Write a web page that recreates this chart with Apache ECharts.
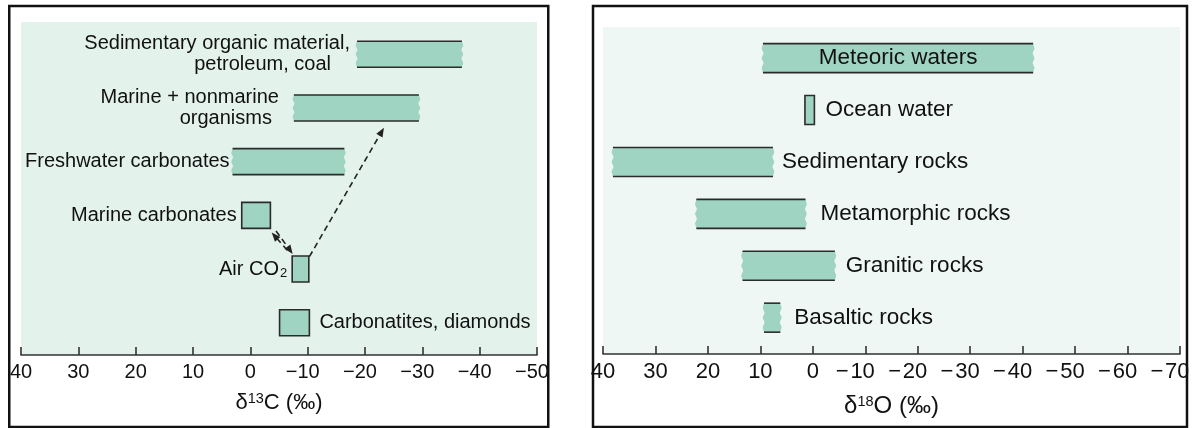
<!DOCTYPE html>
<html>
<head>
<meta charset="utf-8">
<script src="https://cdn.jsdelivr.net/npm/echarts@6/dist/echarts.min.js"></script>
<style>
html,body{margin:0;padding:0;background:#ffffff;}
#chart{width:1196px;height:428px;}
</style>
</head>
<body>
<div id="chart"></div>
<script>
// ---------------- data ----------------
const carbonCategories = ['Sedimentary organic material,\npetroleum, coal', 'Marine + nonmarine\norganisms', 'Freshwater carbonates', 'Marine carbonates', 'Air CO₂', 'Carbonatites, diamonds'];
const carbonFrom = [-18.6, -7.6, 3.1, 1.5, -7.3, -5.1];
const carbonTo = [-36.9, -29.4, -16.4, -3.5, -10.2, -10.3];
const carbonTicks = [40, 30, 20, 10, 0, -10, -20, -30, -40, -50];

const oxygenCategories = ['Meteoric waters', 'Ocean water', 'Sedimentary rocks', 'Metamorphic rocks', 'Granitic rocks', 'Basaltic rocks'];
const oxygenFrom = [9.5, 1.5, 38.1, 22.2, 13.4, 9.3];
const oxygenTo = [-42.0, -0.3, 7.6, 1.4, -4.2, 6.2];
const oxygenTicks = [40, 30, 20, 10, 0, -10, -20, -30, -40, -50, -60, -70];

// dashed arrows in the δ13C panel: [fromValue, fromRow, toValue, toRow]
const carbonArrows = [
  [-10.3, 3.77, -23.3, 1.37],
  [-6.45, 3.65, -3.73, 3.32],
  [-4.48, 3.29, -7.39, 3.72]
];

// ---------------- style ----------------
const FONT = 'Liberation Sans, Arial, Helvetica, sans-serif';
const FILL = '#9fd4c2';
const LINE = '#2b2b2b';
const TEXT = '#111111';
const carbonBoxed = [false, false, false, true, true, true];
const carbonLabelSide = ['left', 'left', 'left', 'left', 'left', 'right'];
const carbonLabelGap = [7, 15, 3, 5, 5, 10];
const carbonLine2Pad = [19, 7, 0, 0, 0, 0];
const oxygenBoxed = [false, true, false, false, false, false];
const oxygenLabelSide = ['inside', 'right', 'right', 'right', 'right', 'right'];
const oxygenLabelGap = [0, 11, 9, 15, 11, 14];

function tickFmt(space) {
  return function (v) {
    return v < 0 ? '{neg|\u2212' + space + Math.abs(v) + '}' : '{pos|' + v + '}';
  };
}

function richLabel(name) {
  const lines = name.split('\n');
  return lines.map(function (ln, k) {
    if (ln.indexOf('₂') >= 0) {
      const parts = ln.split('₂');
      return '{n|' + parts[0] + '}{sub|2}' + (parts[1] ? '{n|' + parts[1] + '}' : '');
    }
    return (k === 0 ? '{n|' : '{m|') + ln + '}';
  }).join('\n');
}

function makeBarRenderer(cats, boxed, side, gap, pad2, barH, fontSize) {
  return function (params, api) {
    const i = params.dataIndex;
    const a = api.coord([api.value(0), api.value(2)]);
    const b = api.coord([api.value(1), api.value(2)]);
    const x0 = Math.min(a[0], b[0]), x1 = Math.max(a[0], b[0]);
    const yc = a[1], y0 = yc - barH / 2, y1 = yc + barH / 2;
    const children = [];
    if (boxed[i]) {
      children.push({ type: 'rect', shape: { x: x0, y: y0, width: x1 - x0, height: barH },
        style: { fill: FILL, stroke: LINE, lineWidth: 1.6 } });
    } else {
      const n = 6, pts = [[x0, y0], [x1, y0]];
      for (let k = 1; k < n; k++) pts.push([x1 + (k % 2 ? 1.4 : -0.6), y0 + k * barH / n]);
      pts.push([x1, y1], [x0, y1]);
      for (let k = n - 1; k >= 1; k--) pts.push([x0 - (k % 2 ? 1.4 : -0.6), y0 + k * barH / n]);
      children.push({ type: 'polygon', shape: { points: pts }, style: { fill: FILL } });
      children.push({ type: 'line', shape: { x1: x0, y1: y0, x2: x1, y2: y0 }, style: { stroke: LINE, lineWidth: 1.6 } });
      children.push({ type: 'line', shape: { x1: x0, y1: y1, x2: x1, y2: y1 }, style: { stroke: LINE, lineWidth: 1.6 } });
    }
    let tx, align;
    if (side[i] === 'left') { tx = x0 - gap[i]; align = 'right'; }
    else if (side[i] === 'right') { tx = x1 + gap[i]; align = 'left'; }
    else { tx = (x0 + x1) / 2; align = 'center'; }
    children.push({ type: 'text', style: {
      text: richLabel(cats[i]), x: tx, y: yc, align: align, verticalAlign: 'middle',
      fill: TEXT, fontFamily: FONT, fontSize: fontSize,
      rich: {
        n: { fontSize: fontSize, fontFamily: FONT, fill: TEXT, lineHeight: 21.5 },
        m: { fontSize: fontSize, fontFamily: FONT, fill: TEXT, lineHeight: 21.5, padding: [0, pad2[i] || 0, 0, 0] },
        sub: { fontSize: 13, fontFamily: FONT, fill: TEXT, padding: [8, 0, 0, 1] }
      }
    } });
    return { type: 'group', children: children };
  };
}

function arrowRenderer(params, api) {
  const p1 = api.coord([api.value(0), api.value(1)]);
  const p2 = api.coord([api.value(2), api.value(3)]);
  const ang = Math.atan2(p2[1] - p1[1], p2[0] - p1[0]);
  const L = 9, W = 3.6;
  const cx = Math.cos(ang), sy = Math.sin(ang);
  const bx = p2[0] - L * cx, by = p2[1] - L * sy;
  return { type: 'group', children: [
    { type: 'line', shape: { x1: p1[0], y1: p1[1], x2: bx + 2 * cx, y2: by + 2 * sy },
      style: { stroke: '#222', lineWidth: 1.6, lineDash: [6, 4] } },
    { type: 'polygon', shape: { points: [[p2[0], p2[1]], [bx - W * sy, by + W * cx], [bx + W * sy, by - W * cx]] },
      style: { fill: '#222' } }
  ] };
}

function xAxisCfg(gridIndex, ticks, nameRich, nameGap, labelSize, nameSize, negShift, minusSpace) {
  return {
    gridIndex: gridIndex, type: 'value', inverse: true,
    min: Math.min.apply(null, ticks), max: Math.max.apply(null, ticks), interval: 10,
    axisLine: { show: true, onZero: false, lineStyle: { color: '#333', width: 1.6 } },
    axisTick: { show: true, inside: true, length: 8, lineStyle: { color: '#333', width: 1.6 } },
    splitLine: { show: false },
    axisLabel: {
      formatter: tickFmt(minusSpace), fontSize: labelSize, fontFamily: FONT, color: TEXT, margin: 7, hideOverlap: false,
      rich: {
        pos: { fontSize: labelSize, fontFamily: FONT, color: TEXT },
        neg: { fontSize: labelSize, fontFamily: FONT, color: TEXT, padding: [0, negShift, 0, 0] }
      }
    },
    name: nameRich, nameLocation: 'middle', nameGap: nameGap,
    nameTextStyle: {
      fontSize: nameSize, fontFamily: FONT, color: TEXT,
      rich: {
        n: { fontSize: nameSize, fontFamily: FONT, color: TEXT },
        sup: { fontSize: 14.5, fontFamily: FONT, color: TEXT, padding: [0, 0, 8, 0] }
      }
    }
  };
}

const chart = echarts.init(document.getElementById('chart'), null, { renderer: 'canvas' });
chart.setOption({
  backgroundColor: '#ffffff',
  animation: false,
  grid: [
    { left: 21, top: 22, width: 516, height: 333, show: true, backgroundColor: '#e4f2ec', borderWidth: 0 },
    { left: 603, top: 27, width: 577, height: 327, show: true, backgroundColor: '#eef7f3', borderWidth: 0 }
  ],
  xAxis: [
    xAxisCfg(0, carbonTicks, '{n|δ}{sup|13}{n|C (‰)}', 36, 20, 22, 10, ''),
    xAxisCfg(1, oxygenTicks, '{n|δ}{sup|18}{n|O (‰)}', 40, 22, 24, 20, '\u200A')
  ],
  yAxis: [
    { gridIndex: 0, type: 'value', inverse: true, min: -0.6, max: 5.6, show: false },
    { gridIndex: 1, type: 'value', inverse: true, min: -0.6, max: 5.7, show: false }
  ],
  series: [
    {
      type: 'custom', xAxisIndex: 0, yAxisIndex: 0, silent: true, clip: false,
      encode: { x: [0, 1], y: 2 },
      data: carbonCategories.map(function (c, i) { return [carbonFrom[i], carbonTo[i], i]; }),
      renderItem: makeBarRenderer(carbonCategories, carbonBoxed, carbonLabelSide, carbonLabelGap, carbonLine2Pad, 26, 20)
    },
    {
      type: 'custom', xAxisIndex: 0, yAxisIndex: 0, silent: true, clip: false,
      encode: { x: [0, 2], y: [1, 3] },
      data: carbonArrows,
      renderItem: arrowRenderer
    },
    {
      type: 'custom', xAxisIndex: 1, yAxisIndex: 1, silent: true, clip: false,
      encode: { x: [0, 1], y: 2 },
      data: oxygenCategories.map(function (c, i) { return [oxygenFrom[i], oxygenTo[i], i]; }),
      renderItem: makeBarRenderer(oxygenCategories, oxygenBoxed, oxygenLabelSide, oxygenLabelGap, [0,0,0,0,0,0], 29, 22.5)
    }
  ],
  graphic: { elements: [
    { type: 'rect', z: 200, shape: { x: 1188.5, y: 0, width: 8, height: 428 }, style: { fill: '#ffffff' } },
    { type: 'rect', z: 201, shape: { x: 9.25, y: 6, width: 539, height: 421 }, style: { fill: 'none', stroke: '#111', lineWidth: 2.5 } },
    { type: 'rect', z: 201, shape: { x: 593, y: 6, width: 594, height: 421 }, style: { fill: 'none', stroke: '#111', lineWidth: 2.5 } }
  ] }
});
</script>
</body>
</html>
